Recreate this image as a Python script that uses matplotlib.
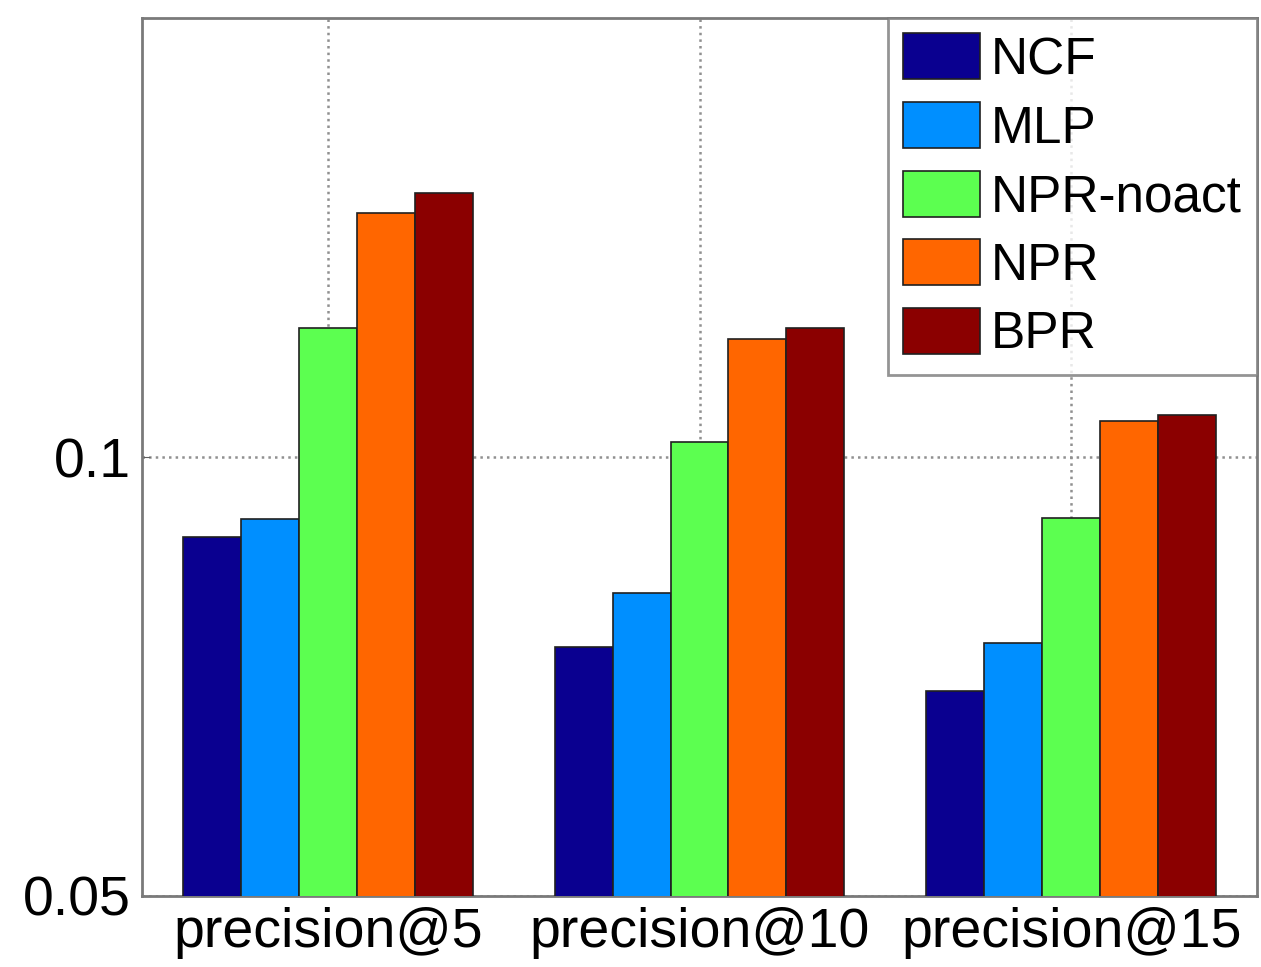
import matplotlib
matplotlib.use("Agg")
import matplotlib.pyplot as plt
import numpy as np
from matplotlib.ticker import FixedLocator, NullLocator

plt.rcParams['font.family'] = ['Liberation Sans', 'DejaVu Sans']

categories = ["precision@5", "precision@10", "precision@15"]
methods = ["NCF", "MLP", "NPR-noact", "NPR", "BPR"]
ncf = [0.0882, 0.0741, 0.0691]
mlp = [0.0907, 0.0807, 0.0745]
npr_noact = [0.1226, 0.1024, 0.0908]
npr = [0.1469, 0.1204, 0.1058]
bpr = [0.1518, 0.1226, 0.1068]
colors = ["#0A0090", "#008FFF", "#5CFF50", "#FF6600", "#8B0000"]

series = [ncf, mlp, npr_noact, npr, bpr]

fig = plt.figure(figsize=(12.61, 9.67), dpi=100)
ax = fig.add_axes([142/1261, 1 - 896/967, (1257-142)/1261, (896-18)/967])

x = np.arange(1, len(categories) + 1)
width = 0.156
for i, (vals, c, name) in enumerate(zip(series, colors, methods)):
    offset = (i - 2) * width
    ax.bar(x + offset, vals, width, color=c, edgecolor="#202020", linewidth=1.2,
           label=name, zorder=3)

ax.set_yscale('log')
ax.set_ylim(0.05, 0.2)
ax.set_xlim(0.5, 3.5)
ax.yaxis.set_major_locator(FixedLocator([0.05, 0.1]))
ax.yaxis.set_minor_locator(NullLocator())
ax.set_yticklabels(["0.05", "0.1"])
ax.set_xticks(x)
ax.set_xticklabels(categories)
ax.tick_params(axis='both', direction='in', labelsize=40, length=6, color="#606060")
ax.tick_params(axis='x', pad=8)
ax.tick_params(axis='y', pad=8)
ax.grid(True, linestyle=':', color="#909090", linewidth=1.8, zorder=0)
for s in ax.spines.values():
    s.set_color("#7a7a7a")
    s.set_linewidth(2)

leg = ax.legend(loc='upper right', fontsize=37, frameon=True, fancybox=False,
                edgecolor="#7a7a7a", handlelength=1.5, handleheight=1.0,
                handletextpad=0.2, labelspacing=0.33, borderaxespad=0,
                borderpad=0.3)
leg.get_frame().set_linewidth(2)
leg.set_zorder(5)

fig.savefig("out.png", dpi=100)
